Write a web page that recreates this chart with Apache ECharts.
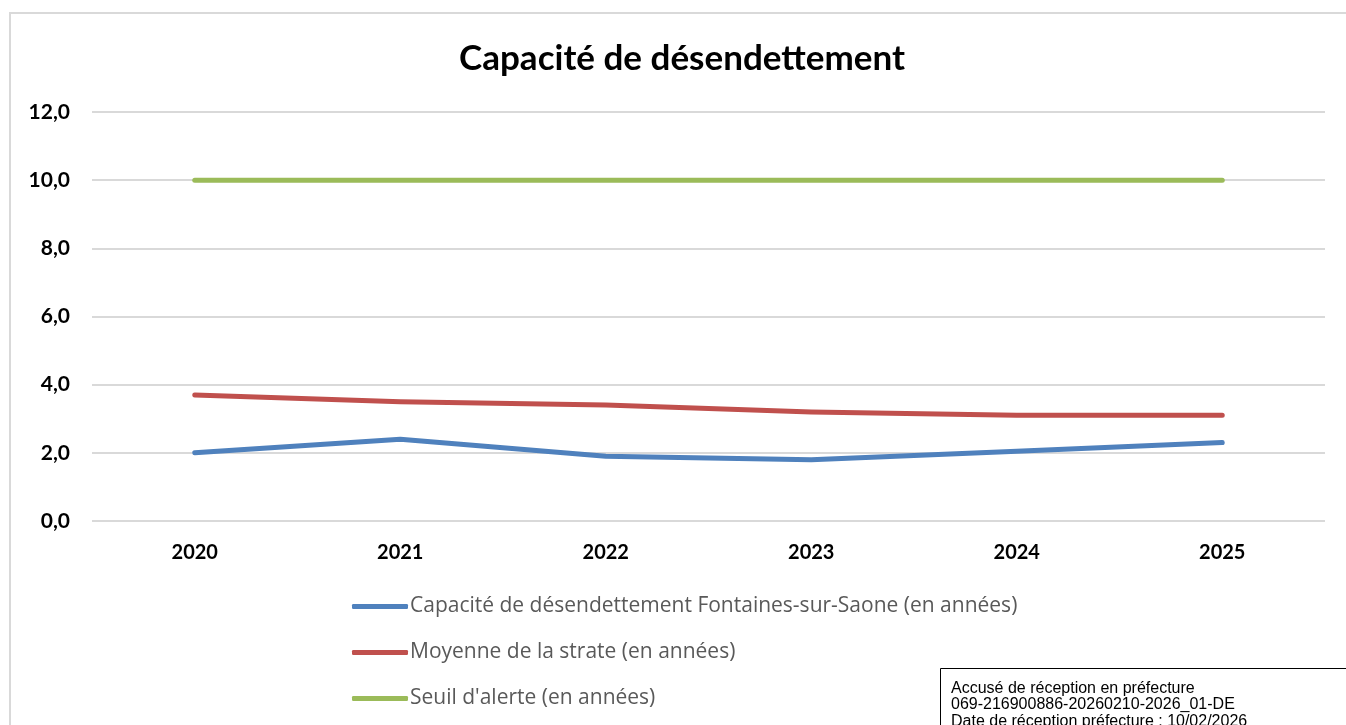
<!DOCTYPE html>
<html>
<head>
<meta charset="utf-8">
<script src="https://cdn.jsdelivr.net/npm/echarts@6/dist/echarts.min.js"></script>
<style>
  html, body { margin: 0; padding: 0; background: #fff; }
  #chart { width: 1346px; height: 725px; }
</style>
</head>
<body>
<div id="chart"></div>
<script>
var years = ['2020', '2021', '2022', '2023', '2024', '2025'];
var capacite = [2.0, 2.4, 1.9, 1.8, 2.05, 2.3];
var moyenne = [3.7, 3.5, 3.4, 3.2, 3.1, 3.1];
var seuil = [10, 10, 10, 10, 10, 10];
var seriesNames = [
    'Capacité de désendettement Fontaines-sur-Saone (en années)',
    'Moyenne de la strate (en années)',
    "Seuil d'alerte (en années)"
];

var chart = echarts.init(document.getElementById('chart'));

function lineSerie(name, data, color) {
    return {
        name: name,
        type: 'line',
        data: data,
        symbol: 'none',
        lineStyle: { color: color, width: 5, cap: 'round', join: 'round' },
        itemStyle: { color: color }
    };
}

var option = {
    animation: false,
    title: {
        text: 'Capacité de désendettement',
        left: 677,
        textAlign: 'center',
        top: 36,
        textStyle: { fontFamily: 'Lato', fontWeight: 'bold', fontSize: 35, color: '#000' }
    },
    grid: { left: 92, right: 21, top: 112, bottom: 204 },
    legend: {
        orient: 'vertical',
        left: 347,
        top: 591,
        itemGap: 25,
        itemWidth: 56,
        itemHeight: 5,
        icon: 'roundRect',
        data: seriesNames,
        textStyle: { fontFamily: 'Open Sans', fontSize: 21, color: '#595959', padding: [0, 0, 0, -3] }
    },
    xAxis: {
        type: 'category',
        data: years,
        axisLine: { show: false },
        axisTick: { show: false },
        axisLabel: { fontFamily: 'Lato', fontWeight: 'bold', fontSize: 20, color: '#000', margin: 22 }
    },
    yAxis: {
        type: 'value',
        min: 0,
        max: 12,
        interval: 2,
        axisLine: { show: false },
        axisTick: { show: false },
        splitLine: { lineStyle: { color: '#d9d9d9', width: 2 } },
        axisLabel: {
            fontFamily: 'Lato', fontWeight: 'bold', fontSize: 21, color: '#000', margin: 22,
            formatter: function (v) { return v.toFixed(1).replace('.', ','); }
        }
    },
    series: [
        lineSerie(seriesNames[0], capacite, '#4f81bd'),
        lineSerie(seriesNames[1], moyenne, '#c0504d'),
        lineSerie(seriesNames[2], seuil, '#9bbb59')
    ],
    graphic: [
        {
            type: 'rect',
            shape: { x: 10, y: 13, width: 1346, height: 730 },
            style: { fill: 'none', stroke: '#d9d9d9', lineWidth: 2 },
            silent: true
        },
        {
            type: 'rect',
            shape: { x: 940.5, y: 668.5, width: 420, height: 70 },
            style: { fill: '#fff', stroke: '#000', lineWidth: 1 },
            silent: true
        },
        {
            type: 'text',
            left: 951,
            top: 680,
            style: {
                text: 'Accusé de réception en préfecture\n069-216900886-20260210-2026_01-DE\nDate de réception préfecture : 10/02/2026',
                fontFamily: 'Liberation Sans',
                fontSize: 16,
                lineHeight: 16.5,
                fill: '#000'
            },
            silent: true
        }
    ]
};

chart.setOption(option);
</script>
</body>
</html>
